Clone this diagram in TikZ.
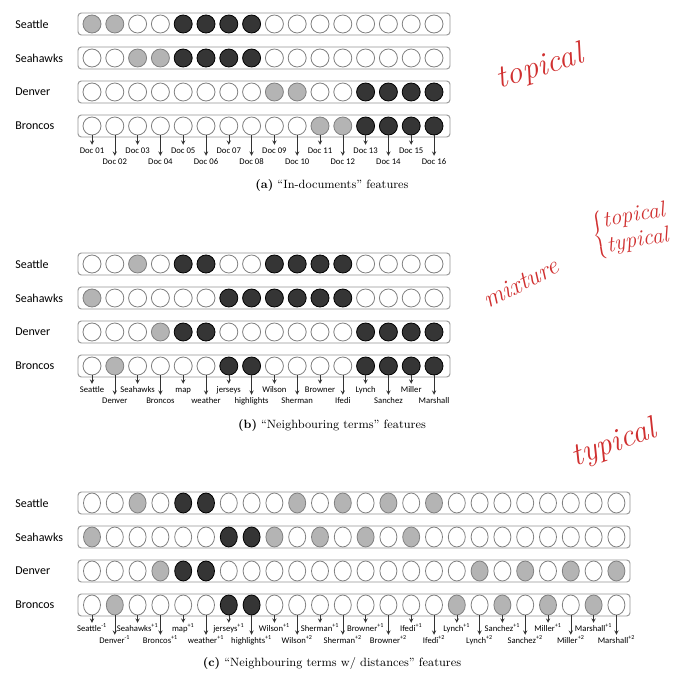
\documentclass[tikz,border=0pt]{standalone}
\usepackage{fontspec}
\newfontfamily\calibri{Carlito}
\usepackage{tikz}
\definecolor{cellgray}{HTML}{B4B4B4}
\definecolor{celldark}{HTML}{353535}
\definecolor{cellrim}{HTML}{808080}
\definecolor{inkred}{HTML}{D03030}
\usetikzlibrary{positioning, arrows, shapes.geometric}
\tikzstyle{arrow} = [->,>=stealth]

\begin{document}
\begin{tikzpicture}[x=0.75pt,y=-0.75pt]
    \tikzstyle{every node}=[font=\calibri\small]
    \tikzstyle{rowbox} = [draw=gray!85, rounded corners=2.5pt, line width=0.7pt, minimum height=16.5pt, inner sep=0pt]
    \tikzstyle{dot} = [circle, minimum size=13.5pt, inner sep=0pt, line width=0.6pt]
    \tikzstyle{oval} = [ellipse, minimum width=12.75pt, minimum height=15pt, inner sep=0pt, line width=0.6pt]
    \tikzstyle{vw} = [draw=cellrim, fill=white]
    \tikzstyle{vg} = [draw=gray, fill=cellgray]
    \tikzstyle{vb} = [draw=black, fill=celldark]
    \tikzstyle{rowname} = [anchor=west, inner sep=0pt, font=\calibri\fontsize{9}{10}\selectfont]
    \tikzstyle{tick} = [arrow, draw=black!80, line width=0.45pt]
    \tikzstyle{feat} = [anchor=base, inner sep=0.6pt, text height=1.25ex, text depth=0.25ex, font=\calibri\fontsize{6.5}{7}\selectfont]
    \tikzstyle{caption} = [font=\fontsize{9}{11}\selectfont]
    \tikzstyle{ink} = [text=inkred, inner sep=1pt, font=\itshape\fontsize{24}{24}\selectfont\addfontfeatures{LetterSpace=12}]

    \useasboundingbox (0,0) rectangle (694,678);

    % (a) in-documents
    \foreach \name/\y/\pattern [count=\r] in {
        Seattle/24/{g,g,w,w,b,b,b,b,w,w,w,w,w,w,w,w},
        Seahawks/58/{w,w,g,g,b,b,b,b,w,w,w,w,w,w,w,w},
        Denver/92/{w,w,w,w,w,w,w,w,g,g,w,w,b,b,b,b},
        Broncos/126/{w,w,w,w,w,w,w,w,w,w,g,g,b,b,b,b}}{
        \node[rowname] (a-name-\r) at (15,\y) {\name};
        \node[rowbox, minimum width=279pt] (a-box-\r) at (264,\y) {};
        \foreach \s [count=\i] in \pattern
            \node[dot, v\s] (a-\r-\i) at ({92+22.8*(\i-1)},\y) {};
    }
    \foreach \i in {1,...,16}{
        \ifodd\i \def\ly{153}\else \def\ly{164}\fi
        \node[feat] (doc-\i) at ({92+22.8*(\i-1)},\ly) {Doc \ifnum\i<10 0\fi\i};
        \draw[tick] (a-4-\i.south) -- (doc-\i.north);
    }
    \node[caption] (cap-a) at (332,185) {\textbf{(a)} ``In-documents'' features};

    % (b) neighbouring terms
    \foreach \name/\y/\pattern [count=\r] in {
        Seattle/264/{w,w,g,w,b,b,w,w,b,b,b,b,w,w,w,w},
        Seahawks/298/{g,w,w,w,w,w,b,b,b,b,b,b,w,w,w,w},
        Denver/332/{w,w,w,g,b,b,w,w,w,w,w,w,b,b,b,b},
        Broncos/366/{w,g,w,w,w,w,b,b,w,w,w,w,b,b,b,b}}{
        \node[rowname] (b-name-\r) at (15,\y) {\name};
        \node[rowbox, minimum width=279pt] (b-box-\r) at (264,\y) {};
        \foreach \s [count=\i] in \pattern
            \node[dot, v\s] (b-\r-\i) at ({92+22.8*(\i-1)},\y) {};
    }
    \foreach \w [count=\i] in {Seattle, Denver, Seahawks, Broncos, map, weather, jerseys, highlights,
        Wilson, Sherman, Browner, Ifedi, Lynch, Sanchez, Miller, Marshall}{
        \ifodd\i \def\ly{392}\else \def\ly{403}\fi
        \node[feat] (term-\i) at ({92+22.8*(\i-1)},\ly) {\w};
        \draw[tick] (b-4-\i.south) -- (term-\i.north);
    }
    \node[caption] (cap-b) at (332,425) {\textbf{(b)} ``Neighbouring terms'' features};

    % (c) neighbouring terms with distances
    \foreach \name/\y/\pattern [count=\r] in {
        Seattle/503/{w,w,g,w,b,b,w,w,w,g,w,g,w,g,w,g,w,w,w,w,w,w,w,w},
        Seahawks/537/{g,w,w,w,w,w,b,b,g,w,g,w,g,w,g,w,w,w,w,w,w,w,w,w},
        Denver/571/{w,w,w,g,b,b,w,w,w,w,w,w,w,w,w,w,w,g,w,g,w,g,w,g},
        Broncos/605/{w,g,w,w,w,w,b,b,w,w,w,w,w,w,w,w,g,w,g,w,g,w,g,w}}{
        \node[rowname] (c-name-\r) at (15,\y) {\name};
        \node[rowbox, minimum width=414pt] (c-box-\r) at (354,\y) {};
        \foreach \s [count=\i] in \pattern
            \node[oval, v\s] (c-\r-\i) at ({92+22.8*(\i-1)},\y) {};
    }
    \foreach \w/\d [count=\i] in {Seattle/-1, Denver/-1, Seahawks/+1, Broncos/+1, map/+1, weather/+1,
        jerseys/+1, highlights/+1, Wilson/+1, Wilson/+2, Sherman/+1, Sherman/+2, Browner/+1, Browner/+2,
        Ifedi/+1, Ifedi/+2, Lynch/+1, Lynch/+2, Sanchez/+1, Sanchez/+2, Miller/+1, Miller/+2,
        Marshall/+1, Marshall/+2}{
        \ifodd\i \def\ly{631}\else \def\ly{643}\fi
        \node[feat] (dist-\i) at ({92+22.8*(\i-1)},\ly) {\w\textsuperscript{\d}};
        \draw[tick] (c-4-\i.south) -- (dist-\i.north);
    }
    \node[caption] (cap-c) at (332,663) {\textbf{(c)} ``Neighbouring terms w/ distances'' features};

    % handwritten notes
    \node[ink, rotate=17] (note-a) at (540,68) {topical};
    \node[ink, rotate=27, font=\itshape\fontsize{19}{19}\selectfont\addfontfeatures{LetterSpace=14}] (note-b) at (521,283) {mixture};
    \node[ink, rotate=10, font=\itshape\fontsize{17}{19}\selectfont\addfontfeatures{LetterSpace=8}] (note-bb) at (631,230)
        {$\left\{\begin{tabular}{@{}l@{}}topical\\typical\end{tabular}\right.$};
    \node[ink, rotate=20] (note-c) at (614,444) {typical};
\end{tikzpicture}
\end{document}
